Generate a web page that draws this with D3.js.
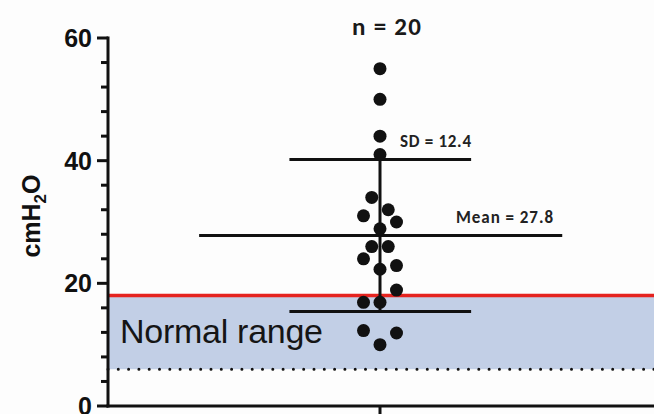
<!DOCTYPE html>
<html>
<head>
<meta charset="utf-8">
<script src="https://cdn.jsdelivr.net/npm/d3@7"></script>
<style>
  body { margin: 0; background: #fdfdfd; }
  svg { display: block; }
</style>
</head>
<body>
<svg id="chart"></svg>
<script>
// individual measurements (cmH2O) and their swarm lane (-2..2)
const values = [55, 50, 44, 41, 34, 32, 31, 30, 28.9, 26, 26, 24, 22.9, 22.3, 18.9, 16.9, 16.9, 12.3, 11.9, 10];
const lanes = [0, 0, 0, 0, -1, 1, -2, 2, 0, -1, 1, -2, 2, 0, 2, -2, 0, -2, 2, 0];
const meanValue = 27.8;
const sdValue = 12.4;
const normalRange = [6, 18];
const yTicks = [0, 20, 40, 60];
const yMinorTicks = d3.range(0, 61, 4);

const width = 654;
const height = 414;

const svg = d3.select("#chart").attr("width", width).attr("height", height);

const y = d3.scaleLinear().domain([0, 60]).range([406, 38]);
const x = d3.scaleLinear().domain([-1, 1]).range([108, 652]);
const lane = d3.scaleLinear().domain([-2, 2]).range([x(0) - 16.5, x(0) + 16.5]);

// normal range band
svg.append("rect")
  .attr("x", x(-1))
  .attr("y", y(normalRange[1]))
  .attr("width", width - x(-1))
  .attr("height", y(normalRange[0]) - y(normalRange[1]))
  .attr("fill", "#c2cfe6");

svg.append("line")
  .attr("x1", x(-1)).attr("x2", width)
  .attr("y1", y(normalRange[0])).attr("y2", y(normalRange[0]))
  .attr("stroke", "#111")
  .attr("stroke-width", 3)
  .attr("stroke-linecap", "round")
  .attr("stroke-dasharray", "0,10.3");

svg.append("line")
  .attr("x1", x(-1)).attr("x2", width)
  .attr("y1", y(normalRange[1])).attr("y2", y(normalRange[1]))
  .attr("stroke", "#e5231f")
  .attr("stroke-width", 3.5);

svg.append("text")
  .attr("x", 120)
  .attr("y", 343)
  .attr("font-family", "Liberation Sans, Arial, sans-serif")
  .attr("font-size", 34)
  .attr("textLength", 203)
  .attr("fill", "#151515")
  .text("Normal range");

// y axis
const yAxis = svg.append("g").attr("transform", `translate(${x(-1)},0)`);
yAxis.append("line")
  .attr("y1", y(60) - 1.5).attr("y2", y(0) + 1.5)
  .attr("stroke", "#111").attr("stroke-width", 3);
yAxis.selectAll(".minor")
  .data(yMinorTicks)
  .join("line")
  .attr("x1", (d) => (yTicks.includes(d) ? -11 : -7))
  .attr("x2", 0)
  .attr("y1", (d) => y(d)).attr("y2", (d) => y(d))
  .attr("stroke", "#111").attr("stroke-width", 3);
yAxis.selectAll(".lbl")
  .data(yTicks)
  .join("text")
  .attr("x", -16)
  .attr("y", (d) => y(d))
  .attr("dy", "0.36em")
  .attr("text-anchor", "end")
  .attr("font-family", "Liberation Sans, Arial, sans-serif")
  .attr("font-weight", "bold")
  .attr("font-size", 25)
  .attr("fill", "#111")
  .text((d) => d);

// x axis
svg.append("line")
  .attr("x1", x(-1) - 1.5).attr("x2", width)
  .attr("y1", y(0)).attr("y2", y(0))
  .attr("stroke", "#111").attr("stroke-width", 3);
svg.append("line")
  .attr("x1", x(0)).attr("x2", x(0))
  .attr("y1", y(0)).attr("y2", height)
  .attr("stroke", "#111").attr("stroke-width", 3);

// y label
const yLabel = svg.append("text")
  .attr("transform", `translate(40,216) rotate(-90)`)
  .attr("text-anchor", "middle")
  .attr("font-family", "Liberation Sans, Arial, sans-serif")
  .attr("font-weight", "bold")
  .attr("font-size", 25)
  .attr("fill", "#111");
yLabel.append("tspan").text("cmH");
yLabel.append("tspan").attr("font-size", 17).attr("dy", 6).text("2");
yLabel.append("tspan").attr("dy", -6).text("O");

// mean and SD
const stroke = "#111";
svg.append("line")
  .attr("x1", x(-0.665)).attr("x2", x(0.67))
  .attr("y1", y(meanValue)).attr("y2", y(meanValue))
  .attr("stroke", stroke).attr("stroke-width", 3);
[meanValue + sdValue, meanValue - sdValue].forEach((v) => {
  svg.append("line")
    .attr("x1", x(-0.333)).attr("x2", x(0.335))
    .attr("y1", y(v)).attr("y2", y(v))
    .attr("stroke", stroke).attr("stroke-width", 3);
});
svg.append("line")
  .attr("x1", x(0)).attr("x2", x(0))
  .attr("y1", y(meanValue + sdValue)).attr("y2", y(meanValue - sdValue))
  .attr("stroke", stroke).attr("stroke-width", 3);

// points
svg.append("g")
  .selectAll("circle")
  .data(values)
  .join("circle")
  .attr("cx", (d, i) => lane(lanes[i]))
  .attr("cy", (d) => y(d))
  .attr("r", 6.5)
  .attr("fill", "#111");

// annotations
const calibri = "Carlito, Lato, 'Open Sans', sans-serif";
svg.append("text")
  .attr("x", 352).attr("y", 35)
  .attr("font-family", calibri)
  .attr("font-weight", "bold")
  .attr("font-size", 25)
  .attr("textLength", 69)
  .attr("fill", "#1a1a1a")
  .text("n = 20");

svg.append("text")
  .attr("x", 400).attr("y", 147)
  .attr("font-family", calibri)
  .attr("font-weight", "bold")
  .attr("font-size", 17)
  .attr("textLength", 71)
  .attr("fill", "#222")
  .text(`SD = ${sdValue}`);

svg.append("text")
  .attr("x", 456).attr("y", 223)
  .attr("font-family", calibri)
  .attr("font-weight", "bold")
  .attr("font-size", 17)
  .attr("textLength", 97)
  .attr("fill", "#222")
  .text(`Mean = ${meanValue}`);
</script>
</body>
</html>
